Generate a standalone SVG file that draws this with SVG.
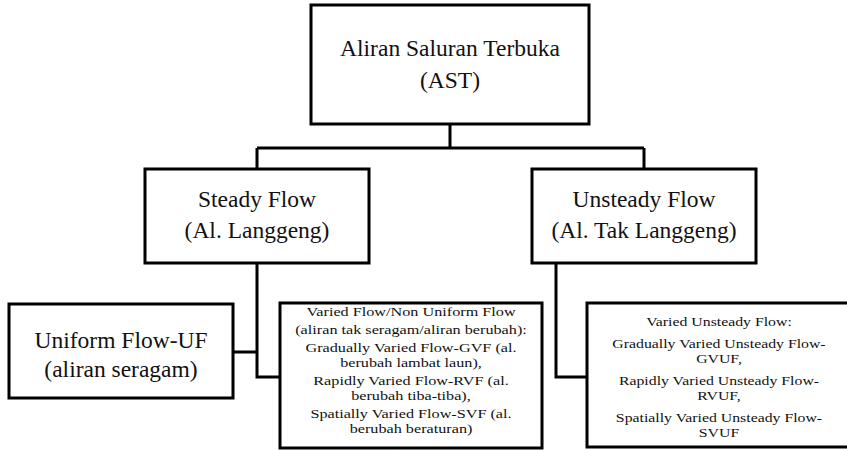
<svg xmlns="http://www.w3.org/2000/svg" width="847" height="450" viewBox="0 0 847 450">
<style>
.box{fill:#fff;stroke:#000;stroke-width:3}
.con{fill:none;stroke:#000;stroke-width:3}
.big{font-family:"Liberation Serif","Times New Roman",serif;font-size:23.5px;fill:#111;text-anchor:middle}
.small{font-family:"Liberation Serif","Times New Roman",serif;font-size:13.5px;fill:#111;text-anchor:middle}
</style>
<rect width="847" height="450" fill="#fff"/>
<g id="connectors">
<path class="con" d="M450,124 V148 M257,148 H644 M257,148 V169 M644,148 V169"/>
<path class="con" d="M257,263 V377 H280 M233,352 H257"/>
<path class="con" d="M556,263 V377 H587"/>
</g>
<g id="ast">
<rect class="box" x="311" y="5" width="278" height="119"/>
<text class="big" x="450" y="56">Aliran Saluran Terbuka</text>
<text class="big" x="450" y="88">(AST)</text>
</g>
<g id="steady">
<rect class="box" x="145" y="169" width="224" height="94"/>
<text class="big" x="257" y="207">Steady Flow</text>
<text class="big" x="257" y="238">(Al. Langgeng)</text>
</g>
<g id="unsteady">
<rect class="box" x="532" y="169" width="224" height="94"/>
<text class="big" x="644" y="207">Unsteady Flow</text>
<text class="big" x="644" y="238">(Al. Tak Langgeng)</text>
</g>
<g id="uniform">
<rect class="box" x="9" y="304" width="224" height="94"/>
<text class="big" x="121" y="348">Uniform Flow-UF</text>
<text class="big" x="121" y="377">(aliran seragam)</text>
</g>
<g id="varied">
<rect class="box" x="280" y="303" width="262" height="145"/>
<g transform="translate(411 0) scale(1.2 1)">
<text class="small" x="0" y="316">Varied Flow/Non Uniform Flow</text>
<text class="small" x="0" y="334">(aliran tak seragam/aliran berubah):</text>
<text class="small" x="0" y="352">Gradually Varied Flow-GVF (al.</text>
<text class="small" x="0" y="367">berubah lambat laun),</text>
<text class="small" x="0" y="385">Rapidly Varied Flow-RVF (al.</text>
<text class="small" x="0" y="400">berubah tiba-tiba),</text>
<text class="small" x="0" y="418">Spatially Varied Flow-SVF (al.</text>
<text class="small" x="0" y="433">berubah beraturan)</text>
</g>
</g>
<g id="varied-unsteady">
<rect class="box" x="587" y="303" width="265" height="144"/>
<g transform="translate(719 0) scale(1.17 1)">
<text class="small" x="0" y="326">Varied Unsteady Flow:</text>
<text class="small" x="0" y="348">Gradually Varied Unsteady Flow-</text>
<text class="small" x="0" y="363">GVUF,</text>
<text class="small" x="0" y="385">Rapidly Varied Unsteady Flow-</text>
<text class="small" x="0" y="400">RVUF,</text>
<text class="small" x="0" y="422">Spatially Varied Unsteady Flow-</text>
<text class="small" x="0" y="437">SVUF</text>
</g>
</g>
</svg>
